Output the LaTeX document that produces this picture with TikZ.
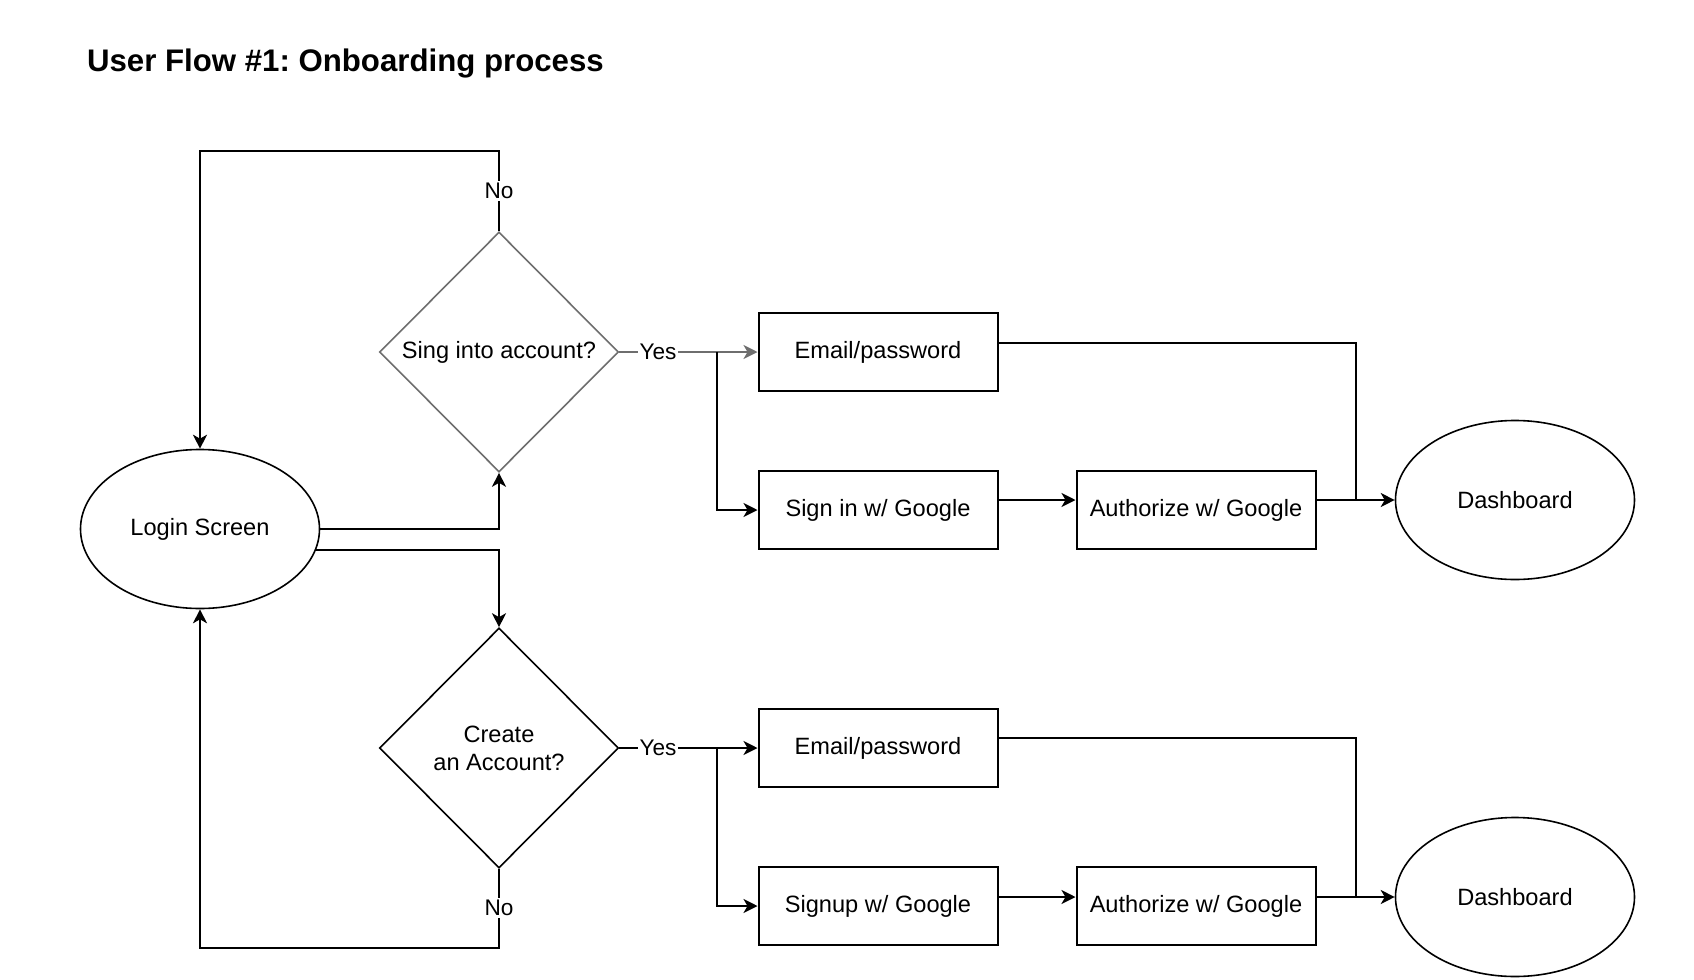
\documentclass[tikz,border=0pt]{standalone}
\usepackage{fontspec}
\setmainfont{Liberation Sans}
\usetikzlibrary{positioning, calc, arrows.meta, shapes.geometric}

\definecolor{edgegray}{RGB}{110,110,110}
\frenchspacing

\begin{document}
\begin{tikzpicture}[
    x=0.5pt, y=-0.5pt,
    every node/.style={font=\fontsize{11.8}{14}\selectfont},
    screen/.style={rectangle, draw=black, line width=1pt, minimum width=119.5pt, minimum height=39pt, inner sep=0pt},
    terminal/.style={ellipse, draw=black, line width=0.8pt, minimum width=119.5pt, minimum height=79.5pt, inner sep=0pt},
    decision/.style={diamond, draw=black, line width=0.8pt, minimum width=119.5pt, minimum height=120pt, inner sep=0pt, align=center},
    lbl/.style={fill=white, inner sep=1pt, font=\fontsize{11.3}{13}\selectfont},
    line/.style={line width=1pt},
    arrow/.style={-{Stealth[length=7pt,width=7pt,inset=2pt]}, line width=1pt}
]
    \useasboundingbox (0,0) rectangle (1694,980);

    % Title
    \node[anchor=base west, font=\fontsize{15.6}{18}\selectfont\bfseries] (title) at (80,71) {User Flow \#1: Onboarding process};

    % Start
    \node[terminal] (login) at (200,529) {Login Screen};

    % Decisions
    \node[decision, draw=edgegray] (sign) at (499,352) {Sing into account?};
    \node[decision] (create) at (499,748) {Create\\an Account?};

    % Sign in path
    \node[screen] (email_in) at (878,352) {Email/password};
    \node[screen] (google_in) at (878,510) {Sign in w/ Google};
    \node[screen] (auth_in) at (1196,510) {Authorize w/ Google};
    \node[terminal] (dash_in) at (1515,500) {Dashboard};

    % Sign up path
    \node[screen] (email_up) at (878,748) {Email/password};
    \node[screen] (google_up) at (878,906) {Signup w/ Google};
    \node[screen] (auth_up) at (1196,906) {Authorize w/ Google};
    \node[terminal] (dash_up) at (1515,897) {Dashboard};

    \coordinate (merge_in) at (1356,500);
    \coordinate (merge_up) at (1356,897);

    % Login to decisions
    \draw[arrow] (login.east) -| (sign.south);
    \draw[arrow] (login.-10) -| (create.north);

    % No, back to login
    \draw[arrow] (sign.north) -- node[lbl] {No} ++(0,-80) -| (login.north);
    \draw[arrow] (create.south) -- node[lbl] {No} ++(0,79) -| (login.south);

    % Yes branches
    \draw[arrow, draw=edgegray] (sign.east) -- node[lbl, text=black, pos=0.28] {Yes} coordinate[pos=0.71] (split_in) (email_in.west);
    \draw[arrow] (split_in) |- (google_in.west);
    \draw[arrow] (create.east) -- node[lbl, pos=0.28] {Yes} coordinate[pos=0.71] (split_up) (email_up.west);
    \draw[arrow] (split_up) |- (google_up.west);

    % On to the dashboard
    \draw[line] ([yshift=4.75pt]email_in.east) -| (merge_in);
    \draw[arrow] (google_in.east |- dash_in) -- (auth_in.west |- dash_in);
    \draw[arrow] (auth_in.east |- dash_in) -- (dash_in.west);

    \draw[line] ([yshift=5pt]email_up.east) -| (merge_up);
    \draw[arrow] (google_up.east |- dash_up) -- (auth_up.west |- dash_up);
    \draw[arrow] (auth_up.east |- dash_up) -- (dash_up.west);

\end{tikzpicture}
\end{document}
